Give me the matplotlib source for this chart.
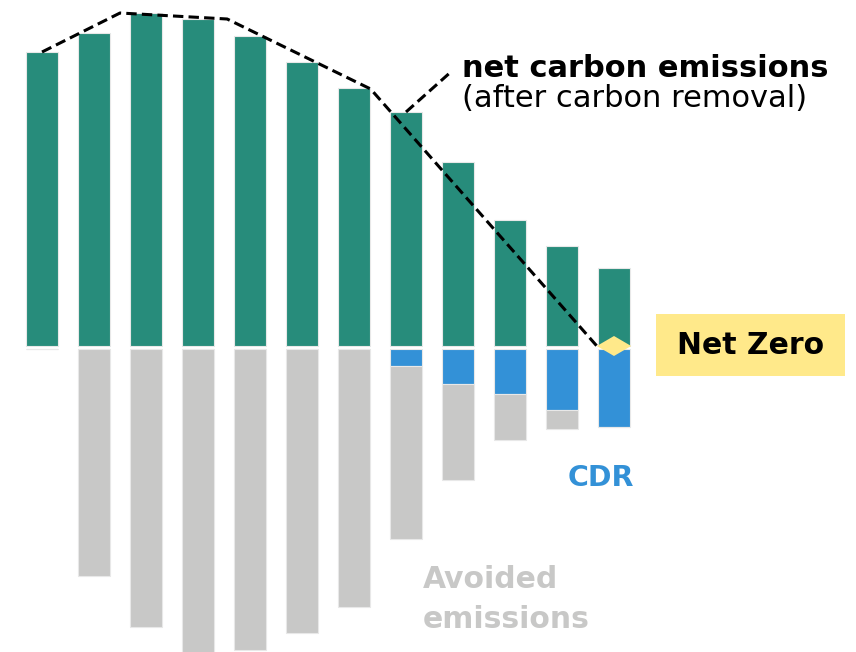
import matplotlib
import matplotlib.pyplot as plt
from matplotlib.patches import Rectangle, Polygon

matplotlib.use('Agg')

# emissions per period, arbitrary units
gross_emissions = [29.4, 31.3, 33.3, 32.7, 31.0, 28.4, 25.8, 23.4, 18.4, 12.6, 10.0, 7.8]
carbon_removal = [0, 0, 0, 0, 0, 0, 0, 1.7, 3.5, 4.5, 6.1, 7.8]
avoided_emissions = [0, 22.7, 27.8, 31.5, 30.1, 28.4, 25.8, 17.3, 9.6, 4.6, 1.9, 0]

# net emissions trend (position along the bars, value)
net_x = [0, 1.5, 3.56, 6.32, 10.67]
net_y = [29.4, 33.3, 32.7, 25.7, 0]

GREEN = '#278C7B'
BLUE = '#3391D7'
GRAY = '#C8C8C7'
YELLOW = '#FFE98A'

plt.rcParams['font.family'] = ['DejaVu Sans']

fig = plt.figure(figsize=(8.56, 6.52), dpi=100)
ax = fig.add_axes([0, 0, 1, 1])

xs = list(range(len(gross_emissions)))
width = 0.6
edge = dict(edgecolor='#E8E8E8', linewidth=0.8)

ax.bar(xs, gross_emissions, width, color=GREEN, **edge)
neg_cdr = [-v for v in carbon_removal]
ax.bar(xs, neg_cdr, width, bottom=[-0.25] * len(xs), color=BLUE, **edge)
ax.bar(xs, [-v for v in avoided_emissions], width,
       bottom=[c - 0.25 for c in neg_cdr], color=GRAY, **edge)

dash = dict(color='black', lw=2.2, linestyle=(0, (3.4, 1.7)), zorder=4)
ax.plot(net_x, net_y, **dash)
# leader from the label down to the trend
ax.plot([7, 7.84], [gross_emissions[7], 27.3], **dash)

# net zero marker
last = len(xs) - 1
ax.add_patch(Polygon([[last - 0.33, 0], [last, 1.0], [last + 0.33, 0], [last, -1.0]],
                     closed=True, facecolor=YELLOW, edgecolor='none', zorder=5))

ax.add_patch(Rectangle((11.81, -3.0), 3.63, 6.2, facecolor=YELLOW, edgecolor='none'))
ax.text(13.63, 0.05, 'Net Zero', fontsize=21.5, fontweight='bold',
        ha='center', va='center', color='black')

ax.text(8.08, 26.9, 'net carbon emissions', fontsize=22, fontweight='bold',
        ha='left', va='baseline', color='black')
ax.text(8.08, 23.9, '(after carbon removal)', fontsize=22,
        ha='left', va='baseline', color='black')

ax.text(10.1, -14.0, 'CDR', fontsize=20.5, fontweight='bold',
        ha='left', va='baseline', color=BLUE)
ax.text(7.33, -24.2, 'Avoided', fontsize=21.5, fontweight='bold',
        ha='left', va='baseline', color=GRAY)
ax.text(7.33, -28.2, 'emissions', fontsize=21.5, fontweight='bold',
        ha='left', va='baseline', color=GRAY)

ax.set_xlim(-0.808, 15.654)
ax.set_ylim(-30.6, 34.6)
ax.axis('off')

fig.savefig('out.png', dpi=100)
